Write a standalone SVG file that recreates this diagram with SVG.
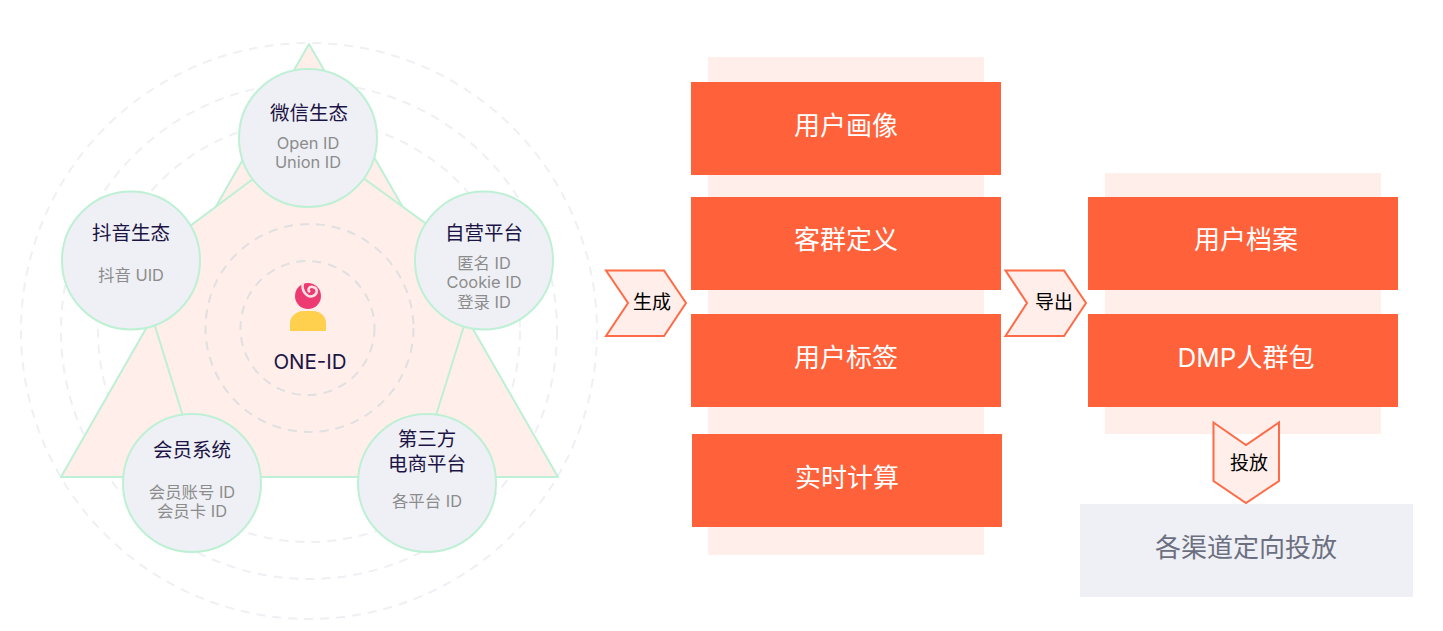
<svg xmlns="http://www.w3.org/2000/svg" width="1443" height="631" viewBox="0 0 1443 631">
<style>
text{font-family:Inter,"Noto Sans CJK SC",sans-serif;text-anchor:middle}
.ring{fill:none;stroke:#eef0f4;stroke-width:2;stroke-dasharray:9 7}
.ringin{fill:none;stroke:#dfe0e0;stroke-width:2;stroke-dasharray:9 7}
.shape{fill:#ffeee9;stroke:#bdf0d4;stroke-width:2;stroke-linejoin:round}
.c{fill:#eff0f5;stroke:#bdf0d4;stroke-width:2}
.t{font-size:19.500px;fill:#1c1445}
.s{font-size:16.400px;fill:#8c8c8c}
.bg{fill:#ffeee9}
.o{fill:#ff613a}
.ot{font-size:26px;fill:#fff}
.ch{fill:#ffeee9;stroke:#ff6b47;stroke-width:2}
.ct{font-size:19px;fill:#000}
</style>
<g id="rings">
<circle class="ring" cx="309" cy="331" r="288"/>
<circle class="ring" cx="309" cy="331" r="248"/>
<circle class="ring" cx="309" cy="331" r="211"/>
</g>
<g id="connectors">
<path class="shape" d="M309 44L558 477H61Z"/>
<path class="shape" d="M308 138L483 265L416.700 477H201.800L136.400 266Z"/>
<circle class="ringin" cx="309.500" cy="328" r="104"/>
<circle class="ringin" cx="307.500" cy="328" r="67"/>
</g>
<g id="one-id">
<circle cx="308" cy="296" r="13" fill="#ee3a73"/>
<path d="M303 283C301 291 307 298 313 296C318 294 318 288 313 287C309 286 307 290 310 292" fill="none" stroke="#ffe3e3" stroke-width="2.500"/>
<path d="M290 331V323C290 316 297 311 303 311H313C320 311 326 316 326 323V331Z" fill="#ffd04d"/>
<text x="310" y="369" font-size="20.500" fill="#1c1445">ONE-ID</text>
</g>
<g id="node-wechat">
<circle class="c" cx="308" cy="138" r="69"/>
<text class="t" x="309" y="120">微信生态</text>
<text class="s" x="308" y="149">Open ID</text>
<text class="s" x="308" y="168">Union ID</text>
</g>
<g id="node-douyin">
<circle class="c" cx="131" cy="260.500" r="69"/>
<text class="t" x="131" y="240">抖音生态</text>
<text class="s" x="131" y="281">抖音 UID</text>
</g>
<g id="node-self">
<circle class="c" cx="484" cy="260.500" r="69"/>
<text class="t" x="484" y="240">自营平台</text>
<text class="s" x="484" y="269">匿名 ID</text>
<text class="s" x="484" y="288">Cookie ID</text>
<text class="s" x="484" y="308">登录 ID</text>
</g>
<g id="node-member">
<circle class="c" cx="192" cy="483" r="69"/>
<text class="t" x="192" y="457">会员系统</text>
<text class="s" x="192" y="498">会员账号 ID</text>
<text class="s" x="192" y="517">会员卡 ID</text>
</g>
<g id="node-third">
<circle class="c" cx="427" cy="483" r="69"/>
<text class="t" x="427" y="446">第三方</text>
<text class="t" x="427" y="471">电商平台</text>
<text class="s" x="427" y="507">各平台 ID</text>
</g>
<g id="panels">
<rect class="bg" x="708" y="57" width="276" height="498"/>
<rect class="bg" x="1105" y="173" width="276" height="261"/>
</g>
<g id="node-portrait"><rect class="o" x="691" y="82" width="310" height="93"/><text class="ot" x="846" y="135">用户画像</text></g>
<g id="node-segment"><rect class="o" x="691" y="197" width="310" height="93"/><text class="ot" x="846" y="249">客群定义</text></g>
<g id="node-tags"><rect class="o" x="691" y="314" width="310" height="93"/><text class="ot" x="846" y="367">用户标签</text></g>
<g id="node-realtime"><rect class="o" x="692" y="434" width="310" height="93"/><text class="ot" x="847" y="487">实时计算</text></g>
<g id="node-profile"><rect class="o" x="1088" y="197" width="310" height="93"/><text class="ot" x="1246" y="249">用户档案</text></g>
<g id="node-dmp"><rect class="o" x="1088" y="314" width="310" height="93"/><text class="ot" x="1246" y="367">DMP人群包</text></g>
<g id="node-channel"><rect x="1080" y="504" width="333" height="93" fill="#eff0f5"/><text x="1246" y="557" font-size="26" fill="#6b6f80">各渠道定向投放</text></g>
<g id="chevron-generate"><path class="ch" d="M606 270.500H664L686 303L664 336H606L628 303Z"/><text class="ct" x="652" y="309">生成</text></g>
<g id="chevron-export"><path class="ch" d="M1005.500 270.500H1064L1086 303L1064 336H1005.500L1027 303Z"/><text class="ct" x="1054" y="309">导出</text></g>
<g id="chevron-deliver"><path class="ch" d="M1213.500 422.500L1246 445L1279 422.500V481L1246 503L1213.500 481Z"/><text class="ct" x="1249" y="470">投放</text></g>
</svg>
